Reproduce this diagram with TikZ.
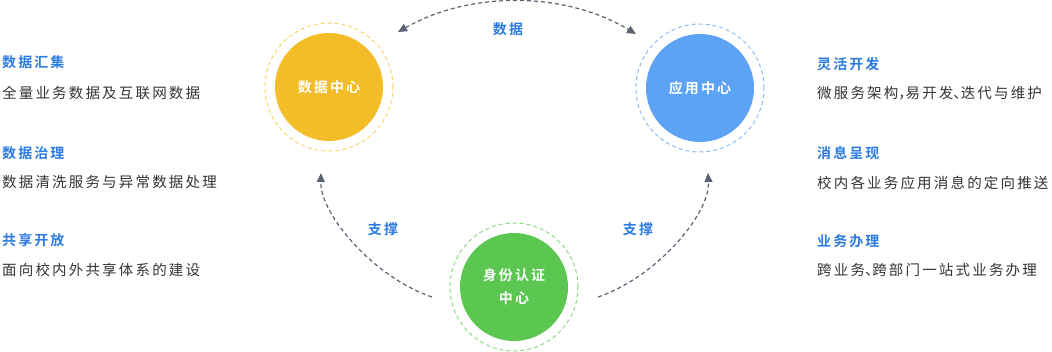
\documentclass[tikz,border=0pt]{standalone}
\usepackage{fontspec}
\setmainfont{Noto Sans CJK SC}[BoldFont={Noto Sans CJK SC Bold},LetterSpace=15]
\usetikzlibrary{arrows.meta}
\newcommand{\hp}[1]{{\addfontfeature{RawFeature=+halt}#1}}
\definecolor{cyellow}{HTML}{F2BD26}
\definecolor{ryellow}{HTML}{F8D56E}
\definecolor{cblue}{HTML}{5CA3F5}
\definecolor{rblue}{HTML}{8DBAF0}
\definecolor{cgreen}{HTML}{5BC750}
\definecolor{rgreen}{HTML}{8CDA84}
\definecolor{tblue}{HTML}{2B7BE0}
\definecolor{tbody}{HTML}{333333}
\definecolor{arc}{HTML}{5C6275}
\tikzset{
  core/.style={circle,minimum size=108pt,inner sep=0pt,text=white,font=\fontsize{14}{23}\selectfont\bfseries,align=center},
  ring/.style={line width=1pt,dash pattern=on 4pt off 3pt},
  flow/.style={draw=arc,line width=1.2pt,dash pattern=on 4pt off 3pt,-{Triangle[length=9pt,width=8pt]}},
  biflow/.style={flow,{Triangle[length=9pt,width=8pt]}-{Triangle[length=9pt,width=8pt]}},
  ttl/.style={anchor=west,inner sep=0pt,text=tblue,font=\fontsize{14}{16}\selectfont\bfseries},
  body/.style={anchor=west,inner sep=0pt,text=tbody,font=\fontsize{14.5}{16}\selectfont},
  lbl/.style={inner sep=0pt,text=tblue,font=\fontsize{14}{16}\selectfont\bfseries}
}
\begin{document}
\begin{tikzpicture}[x=1pt,y=-1pt]
\useasboundingbox (0,0) rectangle (1052,352);
% circles
\node[core,fill=cyellow] (dc) at (329,87) {数据中心};
\node[core,fill=cblue] (ac) at (700,88) {应用中心};
\node[core,fill=cgreen] (ic) at (514,287) {身份认证\\中心};
\draw[ring,draw=ryellow] (dc.center) circle[radius=64pt];
\draw[ring,draw=rblue] (ac.center) circle[radius=64pt];
\draw[ring,draw=rgreen] (ic.center) circle[radius=64pt];
% arc end points
\coordinate (t1) at (398,32);
\coordinate (t2) at (636,34);
\coordinate (l1) at (432,297);
\coordinate (l2) at (321,173);
\coordinate (r1) at (598,297);
\coordinate (r2) at (708,173);
\draw[biflow] (t1) .. controls (470,-9) and (564,-9) .. (t2);
\draw[flow] (l1) .. controls (375,278) and (320,215) .. (l2);
\draw[flow] (r1) .. controls (655,278) and (710,215) .. (r2);
\node[lbl] (ldata) at (508,29) {数据};
\node[lbl] (lsup1) at (383,229) {支撑};
\node[lbl] (lsup2) at (638,229) {支撑};
% left texts
\node[ttl] (a1) at (2,62) {数据汇集};
\node[body] (a2) at (2,93) {全量业务数据及互联网数据};
\node[ttl] (a3) at (2,153) {数据治理};
\node[body] (a4) at (2,182.5) {数据清洗服务与异常数据处理};
\node[ttl] (a5) at (2,240) {共享开放};
\node[body] (a6) at (2,270) {面向校内外共享体系的建设};
% right texts
\node[ttl] (b1) at (817,64) {灵活开发};
\node[body] (b2) at (817,93) {微服务架构\hp{，}易开发\hp{、}迭代与维护};
\node[ttl] (b3) at (817,153) {消息呈现};
\node[body] (b4) at (817,183) {校内各业务应用消息的定向推送};
\node[ttl] (b5) at (817,241.5) {业务办理};
\node[body] (b6) at (817,270) {跨业务\hp{、}跨部门一站式业务办理};
\end{tikzpicture}
\end{document}
